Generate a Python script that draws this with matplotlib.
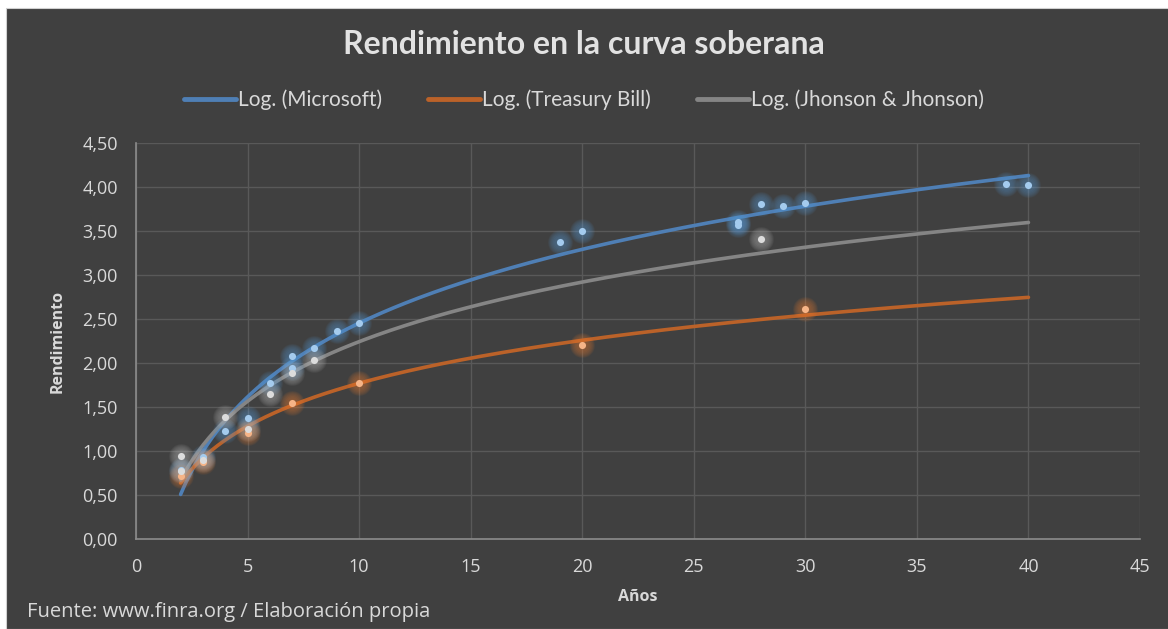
import numpy as np
import matplotlib
matplotlib.use("Agg")
import matplotlib.pyplot as plt
from matplotlib.patches import Rectangle
from matplotlib.ticker import MultipleLocator, FuncFormatter

plt.rcParams['font.family'] = ['Open Sans', 'DejaVu Sans']

# Data (años, rendimiento)
ms_x = [2, 3, 4, 5, 6, 7, 7, 8, 9, 10, 19, 20, 27, 27, 28, 29, 30, 39, 40]
ms_y = [0.78, 0.93, 1.23, 1.375, 1.77, 2.08, 1.94, 2.17, 2.36, 2.45,
        3.37, 3.50, 3.57, 3.60, 3.81, 3.78, 3.82, 4.03, 4.02]
tb_x = [2, 3, 5, 7, 10, 20, 30]
tb_y = [0.72, 0.87, 1.21, 1.55, 1.77, 2.20, 2.61]
jj_x = [2, 2, 3, 4, 5, 6, 7, 8, 28]
jj_y = [0.94, 0.77, 0.90, 1.39, 1.25, 1.65, 1.89, 2.03, 3.41]
trend_range = (2, 40)

BG = "#404040"
TXT = "#d9d9d9"
GRID = "#595959"

series = [
    ("Microsoft", ms_x, ms_y, "#4f7fb5", "#a4cbee", "#5b9bd5"),
    ("Treasury Bill", tb_x, tb_y, "#bb6229", "#f6b487", "#ed7d31"),
    ("Jhonson & Jhonson", jj_x, jj_y, "#858585", "#dcdcdc", "#bfbfbf"),
]

fig = plt.figure(figsize=(11.68, 6.29), dpi=100, facecolor="white")
fig.patches.append(Rectangle((6 / 1168, 0), 1, 1 - 8 / 629, transform=fig.transFigure,
                             facecolor=BG, edgecolor="#d0d0d0", linewidth=0.8, zorder=-10))

ax = fig.add_axes([136 / 1168, 1 - 539 / 629, (1140 - 136) / 1168, (539 - 143) / 629])
ax.set_facecolor(BG)

tx = np.linspace(trend_range[0], trend_range[1], 300)
for name, xs, ys, lc, pc, gc in series:
    xs = np.asarray(xs, float)
    ys = np.asarray(ys, float)
    a, b = np.polyfit(np.log(xs), ys, 1)
    ax.plot(tx, a * np.log(tx) + b, color=lc, lw=2.6, solid_capstyle="round",
            zorder=3, label=f"Log. ({name})")
    # soft glow + dot
    for s in np.linspace(320, 40, 8):
        ax.scatter(xs, ys, s=s, color=gc, alpha=0.07, lw=0, zorder=4)
    ax.scatter(xs, ys, s=26, color=pc, lw=0, zorder=5)

ax.set_xlim(0, 45)
ax.set_ylim(0, 4.5)
ax.xaxis.set_major_locator(MultipleLocator(5))
ax.yaxis.set_major_locator(MultipleLocator(0.5))
ax.yaxis.set_major_formatter(FuncFormatter(lambda v, p: f"{v:.2f}".replace(".", ",")))
ax.grid(True, color=GRID, lw=1)
ax.set_axisbelow(True)
for s in ["top", "right"]:
    ax.spines[s].set_visible(False)
for s in ["left", "bottom"]:
    ax.spines[s].set_color("#8c8c8c")
    ax.spines[s].set_linewidth(1.2)
ax.tick_params(length=0, colors=TXT, labelsize=13)
ax.tick_params(axis="x", pad=14)
ax.tick_params(axis="y", pad=13)

ax.set_xlabel("Años", color=TXT, fontsize=11.5, fontweight="bold", labelpad=9)
ax.set_ylabel("Rendimiento", color=TXT, fontsize=11.5, fontweight="bold", labelpad=12)

fig.text(0.5, 1 - 45 / 629, "Rendimiento en la curva soberana", ha="center", va="center",
         color="#e2e2e2", fontsize=23, fontweight="bold", family=["Lato", "DejaVu Sans"])

leg = fig.legend(loc="center", bbox_to_anchor=(0.5, 1 - 100 / 629), ncol=3, frameon=False,
                 handlelength=2.5, handletextpad=0.1, columnspacing=2.2,
                 prop={"family": ["Lato", "DejaVu Sans"], "size": 15})
for t in leg.get_texts():
    t.set_color(TXT)
for h in leg.get_lines():
    h.set_linewidth(3.5)

fig.text(27 / 1168, 1 - 612 / 629, "Fuente: www.finra.org / Elaboración propia",
         ha="left", va="center", color=TXT, fontsize=14.5)

fig.savefig("out.png", dpi=100, facecolor=fig.get_facecolor())
